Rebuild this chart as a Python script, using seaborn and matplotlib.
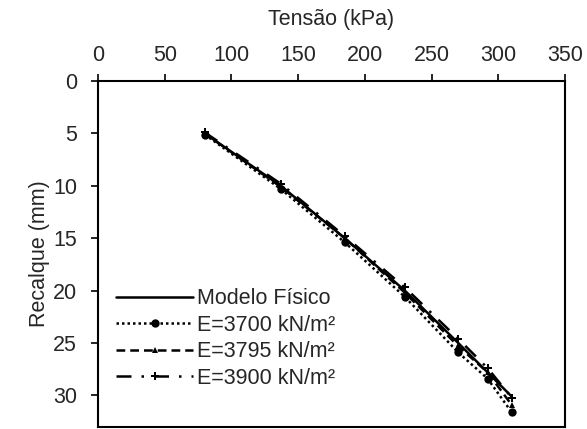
import matplotlib
matplotlib.use("Agg")
import matplotlib.pyplot as plt
import seaborn as sns
import pandas as pd

tensao = [80, 137, 185, 230, 270, 292, 310]
modelo_fisico = [5.0, 10.0, 15.0, 20.0, 25.0, 27.8, 30.1]
e3700 = [5.1, 10.3, 15.4, 20.6, 25.9, 28.4, 31.6]
e3795 = [5.0, 10.1, 15.0, 20.2, 25.3, 27.8, 30.9]
e3900 = [4.9, 9.8, 14.8, 19.7, 24.6, 27.4, 30.2]
labels = ["Modelo Físico", "E=3700 kN/m²", "E=3795 kN/m²", "E=3900 kN/m²"]

sns.set_theme(style="white")
plt.rcParams['font.family'] = ['Liberation Sans', 'DejaVu Sans']

fig = plt.figure(figsize=(5.87, 4.29), dpi=100)
ax = fig.add_axes([0.167, 0.005, 0.7955, 0.806])

series = [modelo_fisico, e3700, e3795, e3900]
styles = ["-", (0, (1, 1.2)), (0, (3.5, 2)), (0, (6, 4, 1, 4))]
markers = [None, "o", "^", "P"]
msizes = [0, 6, 5, 5.5]
for vals, lab, ls, mk, ms in zip(series, labels, styles, markers, msizes):
    df = pd.DataFrame({"Tensão": tensao, "Recalque": vals})
    sns.lineplot(data=df, x="Tensão", y="Recalque", ax=ax, color="black",
                 linestyle=ls, marker=mk, markersize=ms, linewidth=1.8,
                 markeredgewidth=0, label=lab)

fs = 15.5
ax.set_xlim(0, 350)
ax.set_ylim(33, 0)
ax.set_xticks(range(0, 351, 50))
ax.set_yticks(range(0, 31, 5))
ax.xaxis.set_ticks_position("top")
ax.xaxis.set_label_position("top")
ax.set_xlabel("Tensão (kPa)", fontsize=fs, labelpad=14)
ax.set_ylabel("Recalque (mm)", fontsize=fs, labelpad=2)
ax.tick_params(axis="both", labelsize=fs, direction="out", length=5, width=1.2, color="black")
ax.tick_params(axis="x", top=True, bottom=False, pad=6)
ax.tick_params(axis="y", left=True, pad=10)
for sp in ax.spines.values():
    sp.set_color("black")
    sp.set_linewidth(1.5)

leg = ax.legend(loc="lower left", bbox_to_anchor=(0.02, 0.086), frameon=False,
                fontsize=fs, handlelength=3.6, handletextpad=0.15,
                labelspacing=0.25, borderaxespad=0)

fig.savefig("out.png", dpi=100)
